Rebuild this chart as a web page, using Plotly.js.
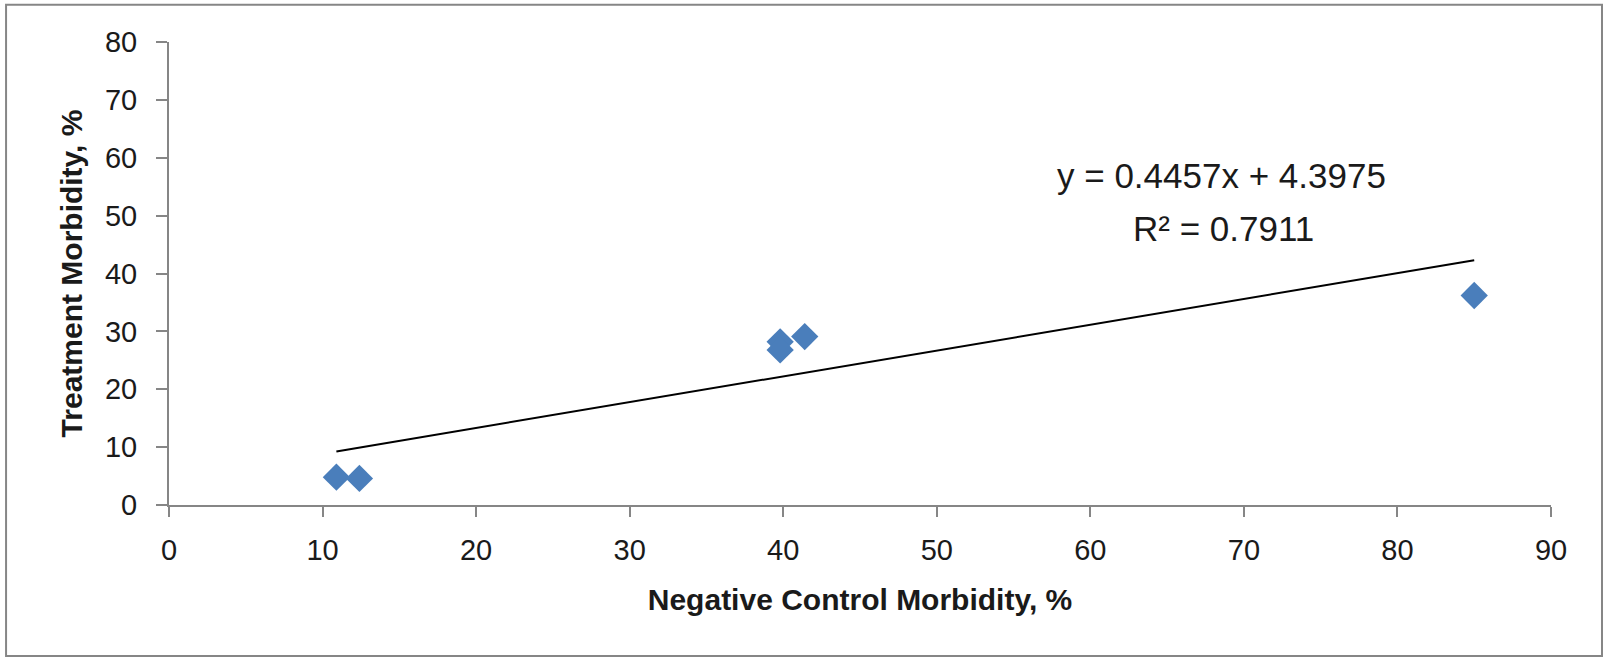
<!DOCTYPE html>
<html>
<head>
<meta charset="utf-8">
<script src="https://cdn.plot.ly/plotly-3.0.1.min.js"></script>
<style>html,body{margin:0;padding:0;background:#fff;}#chart{width:1604px;height:657px;}</style>
</head>
<body>
<div id="chart"></div>
<script>
// Data
const controlMorbidity = [10.9, 12.4, 39.8, 39.8, 41.4, 85.0];
const treatmentMorbidity = [4.8, 4.6, 28.2, 26.8, 29.1, 36.2];
const trendSlope = 0.4457;
const trendIntercept = 4.3975;
const equationText = "y = 0.4457x + 4.3975";
const r2Text = "R\u00B2 = 0.7911";
const xTitle = "Negative Control Morbidity, %";
const yTitle = "Treatment Morbidity, %";

const xMin = Math.min(...controlMorbidity);
const xMax = Math.max(...controlMorbidity);
const trendX = [xMin, xMax];
const trendY = trendX.map(v => trendSlope * v + trendIntercept);

const axisColor = '#868686';
const fontFamily = '"Liberation Sans", Arial, sans-serif';

const traces = [
  {
    x: trendX, y: trendY, type: 'scatter', mode: 'lines',
    line: {color: '#000000', width: 2}, hoverinfo: 'skip', showlegend: false
  },
  {
    x: controlMorbidity, y: treatmentMorbidity, type: 'scatter', mode: 'markers',
    marker: {symbol: 'diamond', size: 21, color: '#4A7EBB', line: {width: 0}},
    showlegend: false
  }
];

const layout = {
  width: 1604, height: 657,
  margin: {l: 169, r: 53, t: 42, b: 152},
  paper_bgcolor: '#ffffff', plot_bgcolor: '#ffffff',
  font: {family: fontFamily, color: '#1a1a1a'},
  showlegend: false,
  xaxis: {
    range: [0, 90], dtick: 10, tick0: 0,
    showgrid: false, zeroline: false,
    showline: true, linecolor: axisColor, linewidth: 2,
    ticks: 'outside', ticklen: 10, tickwidth: 2, tickcolor: axisColor,
    ticklabelstandoff: 8,
    tickfont: {size: 29, family: fontFamily, color: '#1a1a1a'},
    title: {text: xTitle, font: {size: 30, family: fontFamily, color: '#1a1a1a', weight: 'bold'}, standoff: 24}
  },
  yaxis: {
    range: [0, 80], dtick: 10, tick0: 0,
    showgrid: false, zeroline: false,
    showline: true, linecolor: axisColor, linewidth: 2,
    ticks: 'outside', ticklen: 11, tickwidth: 2, tickcolor: axisColor,
    ticklabelstandoff: 13,
    tickfont: {size: 29, family: fontFamily, color: '#1a1a1a'},
    title: {text: yTitle, font: {size: 30, family: fontFamily, color: '#1a1a1a', weight: 'bold'}, standoff: 13}
  },
  annotations: [
    {x: 68.57, y: 56.9, xref: 'x', yref: 'y', text: equationText, showarrow: false,
     font: {size: 35, family: fontFamily, color: '#1a1a1a'}},
    {x: 68.7, y: 47.8, xref: 'x', yref: 'y', text: r2Text, showarrow: false,
     font: {size: 35, family: fontFamily, color: '#1a1a1a'}}
  ],
  shapes: [
    {type: 'rect', xref: 'paper', yref: 'paper', x0: -0.1179, x1: 1.0369, y0: -0.3263, y1: 1.0806,
     line: {color: axisColor, width: 2}, fillcolor: 'rgba(0,0,0,0)', layer: 'below'}
  ]
};

Plotly.newPlot('chart', traces, layout, {displayModeBar: false, staticPlot: true});
</script>
</body>
</html>
